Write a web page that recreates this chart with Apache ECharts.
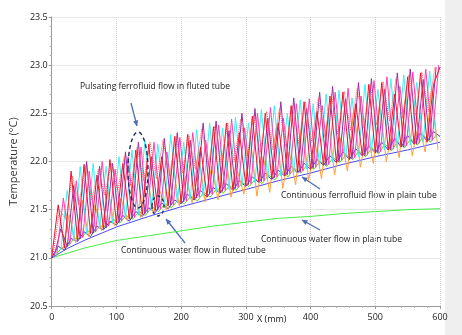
<!DOCTYPE html>
<html><head><meta charset="utf-8">
<script src="https://cdn.jsdelivr.net/npm/echarts@6/dist/echarts.min.js"></script>
<style>html,body{margin:0;padding:0;background:#fff}#c{width:462px;height:335px}</style>
</head><body><div id="c"></div>
<script>
// x sampling (mm) for each measured series: start and step
const redStart = 0, purpleStart = 4, pinkStart = 8, cyanStart = 14, orangeStart = 17, dotStart = 2, greenOscStart = 5, navyStart = 0;
const sampleStep = 10;

const redVals = [21.00,21.55,21.10,21.90,21.18,21.97,21.25,21.86,21.30,22.02,
 21.36,21.98,21.40,22.12,21.45,22.18,21.49,22.05,21.54,22.26,
 21.57,22.28,21.61,22.15,21.64,22.36,21.68,22.40,21.71,22.30,
 21.75,22.47,21.79,22.50,21.82,22.40,21.85,22.58,21.89,22.62,
 21.92,22.52,21.96,22.68,21.99,22.72,22.02,22.60,22.06,22.80,
 22.09,22.82,22.12,22.70,22.15,22.88,22.18,22.92,22.20,22.80,22.98];
const purpleVals = [21.02,21.30,21.12,21.75,21.20,22.00,21.26,21.95,21.31,21.98,
 21.37,22.10,21.41,22.20,21.46,22.05,21.50,22.24,21.55,22.30,
 21.58,22.22,21.62,22.40,21.66,22.42,21.69,22.32,21.72,22.50,
 21.76,22.55,21.79,22.45,21.83,22.62,21.86,22.66,21.89,22.55,
 21.93,22.72,21.96,22.78,22.00,22.65,22.03,22.82,22.06,22.86,
 22.09,22.75,22.12,22.92,22.15,22.96,22.18,22.85,22.22,22.98];
const pinkVals = [21.05,21.62,21.14,21.80,21.21,21.90,21.27,22.00,21.33,21.92,
 21.38,22.05,21.42,22.15,21.47,22.20,21.51,22.10,21.55,22.25,
 21.59,22.30,21.63,22.22,21.66,22.38,21.70,22.44,21.73,22.35,
 21.77,22.50,21.80,22.56,21.84,22.45,21.87,22.60,21.90,22.65,
 21.94,22.58,21.97,22.72,22.01,22.76,22.04,22.68,22.07,22.84,
 22.10,22.88,22.13,22.78,22.16,22.93,22.19,22.96,22.22,23.00];
const cyanVals = [21.08,21.70,21.18,21.95,21.25,21.98,21.30,21.95,21.36,22.05,
 21.40,22.12,21.44,22.22,21.49,22.18,21.53,22.28,21.57,22.20,
 21.61,22.33,21.64,22.40,21.68,22.35,21.71,22.46,21.75,22.40,
 21.78,22.54,21.82,22.58,21.85,22.50,21.88,22.64,21.92,22.60,
 21.95,22.70,21.99,22.74,22.02,22.66,22.05,22.80,22.09,22.75,
 22.12,22.86,22.14,22.90,22.17,22.82,22.20,22.94,22.24];
const orangeVals = [21.09,21.45,21.16,21.60,21.22,21.55,21.28,21.70,21.33,21.62,
 21.38,21.75,21.42,21.90,21.46,21.70,21.50,22.00,21.54,21.85,
 21.57,22.10,21.58,21.95,21.60,22.20,21.63,21.90,21.66,22.25,
 21.64,22.05,21.68,22.35,21.72,22.10,21.76,22.45,21.80,22.20,
 21.82,22.50,21.86,22.25,21.90,22.55,21.94,22.30,21.98,22.60,
 22.00,22.35,22.04,22.70,22.06,22.40,22.10,22.75,22.12];
const dotVals = [21.02,21.50,21.40,21.85,21.55,21.95,21.60,21.92,21.65,21.98,
 21.70,22.05,21.75,22.15,21.80,22.20,21.82,22.22,21.85,22.26,
 21.88,22.28,21.92,22.34,21.95,22.37,21.98,22.40,22.00,22.44,
 22.05,22.48,22.08,22.52,22.12,22.55,22.15,22.58,22.18,22.62,
 22.20,22.66,22.25,22.70,22.28,22.73,22.32,22.76,22.35,22.80,
 22.38,22.83,22.42,22.86,22.45,22.90,22.48,22.93,22.52,22.98];
const greenOscVals = [21.02,21.10,21.12,21.20,21.20,21.28,21.26,21.33,21.32,21.40,
 21.36,21.44,21.40,21.48,21.44,21.53,21.48,21.56,21.52,21.60,
 21.56,21.64,21.59,21.68,21.63,21.72,21.67,21.75,21.70,21.78,
 21.74,21.82,21.77,21.86,21.81,21.90,21.84,21.93,21.88,21.97,
 21.92,22.00,21.95,22.04,21.99,22.07,22.02,22.11,22.05,22.14,
 22.08,22.18,22.11,22.21,22.14,22.24,22.17,22.27,22.20,22.28];
const navyVals = [21.00,21.12,21.08,21.20,21.17,21.27,21.22,21.33,21.29,21.38,
 21.34,21.44,21.38,21.48,21.43,21.52,21.47,21.57,21.51,21.60,
 21.56,21.66,21.60,21.70,21.63,21.73,21.67,21.77,21.70,21.80,
 21.74,21.84,21.78,21.88,21.81,21.91,21.85,21.95,21.88,21.98,
 21.92,22.02,21.96,22.06,21.99,22.10,22.02,22.13,22.06,22.16,
 22.09,22.20,22.12,22.24,22.15,22.27,22.18,22.30,22.21,22.31,22.26];

const smoothX = [0,25,50,100,150,200,250,300,350,400,450,500,550,600];
const plainFerroVals = [21.0,21.1,21.18,21.32,21.43,21.53,21.62,21.71,21.8,21.88,21.97,22.05,22.12,22.2];
const plainWaterVals = [21.0,21.05,21.1,21.18,21.23,21.28,21.33,21.37,21.41,21.43,21.46,21.48,21.5,21.51];

const xTicks = [0,100,200,300,400,500,600];
const yTicks = [20.5,21.0,21.5,22.0,22.5,23.0,23.5];

function sampled(start, vals){ return vals.map((v,i)=>[start+sampleStep*i, v]); }
function pairs(xs, vals){ return xs.map((x,i)=>[x, vals[i]]); }

const chart = echarts.init(document.getElementById('c'), null, {renderer:'canvas'});
const FONT = 'Open Sans';
function line(name, data, color, opts){
  return Object.assign({name, type:'line', data, symbol:'none', smooth:false, clip:true,
    lineStyle:{color, width:1}, silent:true, animation:false}, opts||{});
}
const series = [
  line('Continuous water flow in plain tube', pairs(smoothX, plainWaterVals), '#44EE44'),
  line('Continuous ferrofluid flow in plain tube', pairs(smoothX, plainFerroVals), '#4B4BF5'),
  line('Green', sampled(greenOscStart, greenOscVals), '#66CC33'),
  line('Navy', sampled(navyStart, navyVals), '#5533CC'),
  line('Orange', sampled(orangeStart, orangeVals), '#FF9F3C'),
  line('Cyan', sampled(cyanStart, cyanVals), '#3EEFF2'),
  line('Purple', sampled(purpleStart, purpleVals), '#9B2FA3'),
  line('Pink', sampled(pinkStart, pinkVals), '#FF3FAE'),
  line('Red', sampled(redStart, redVals), '#F0102E'),
  line('RedDotted', sampled(dotStart, dotVals), '#FF4A4A', {lineStyle:{color:'#FF4A4A', width:1, type:'dotted'}})
];
series.forEach(s=>{ s.data = s.data.filter(p=>p[0] <= 600); });

const navy = '#1F2F5F';
const arrowBlue = '#4A6FB5';
function arrow(x1,y1,x2,y2){
  const a = Math.atan2(y2-y1, x2-x1), L = 6, w = 0.45;
  return [
    {type:'line', shape:{x1,y1,x2,y2}, style:{stroke:arrowBlue, lineWidth:1.3}},
    {type:'polygon', shape:{points:[[x2,y2],[x2-L*Math.cos(a-w), y2-L*Math.sin(a-w)],[x2-L*Math.cos(a+w), y2-L*Math.sin(a+w)]]}, style:{fill:arrowBlue}}
  ];
}
function txt(x,y,t,size){
  return {type:'text', x, y, style:{text:t, fill:'#1a1a1a', font:(size||9)+'px "'+FONT+'"', textVerticalAlign:'middle'}};
}

chart.setOption({
  backgroundColor:'#ffffff',
  animation:false,
  grid:{left:45, right:22, top:17, bottom:29, containLabel:false},
  xAxis:{type:'value', min:0, max:600, interval:100,
    axisLine:{show:true, onZero:false, lineStyle:{color:'#9a9a9a'}},
    axisTick:{show:true, length:3, lineStyle:{color:'#9a9a9a'}},
    minorTick:{show:true, splitNumber:5, length:2, lineStyle:{color:'#b0b0b0'}},
    splitLine:{show:true, lineStyle:{color:'#cfcfcf', type:'dotted'}},
    axisLabel:{color:'#222', fontSize:9, fontFamily:FONT, margin:7}},
  yAxis:{type:'value', min:20.5, max:23.5, interval:0.5,
    name:'Temperature (°C)', nameLocation:'middle', nameGap:30, nameRotate:90,
    nameTextStyle:{color:'#333', fontSize:11, fontFamily:FONT},
    axisLine:{show:true, lineStyle:{color:'#9a9a9a'}},
    axisTick:{show:true, length:3, lineStyle:{color:'#9a9a9a'}},
    minorTick:{show:true, splitNumber:5, length:2, lineStyle:{color:'#b0b0b0'}},
    splitLine:{show:true, lineStyle:{color:'#cfcfcf', type:'dotted'}},
    axisLabel:{color:'#222', fontSize:9, fontFamily:FONT, margin:4, formatter:v=>v.toFixed(1)}},
  series,
  graphic:[
    {type:'rect', shape:{x:445, y:0, width:17, height:335}, style:{fill:'#EFEFEF'}, z:-10},
    txt(257, 319, 'X (mm)', 9),
    txt(80, 87, 'Pulsating ferrofluid flow in fluted tube', 8.5),
    ...arrow(131,103,137,126),
    {type:'ellipse', shape:{cx:138, cy:170, rx:10, ry:38}, style:{stroke:navy, fill:'none', lineWidth:1.4, lineDash:[4,3]}, z:100},
    {type:'ellipse', shape:{cx:158, cy:206, rx:6, ry:10}, style:{stroke:navy, fill:'none', lineWidth:1.4, lineDash:[3,3]}, z:100},
    txt(121, 251, 'Continuous water flow in fluted tube', 8.5),
    ...arrow(185,243,166,219),
    txt(281, 196, 'Continuous ferrofluid flow in plain tube', 8.5),
    ...arrow(320,189,302,177),
    txt(261, 240, 'Continuous water flow in plain tube', 8.5),
    ...arrow(320,230,302,220)
  ]
});
</script></body></html>
